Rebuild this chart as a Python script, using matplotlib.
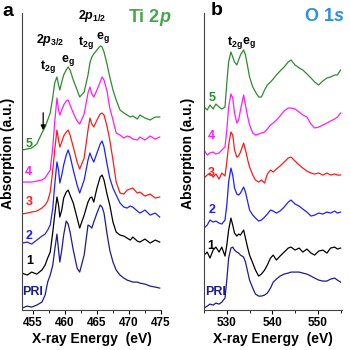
import matplotlib.pyplot as plt
from matplotlib.ticker import MultipleLocator

plt.rcParams['font.family'] = 'Liberation Sans'
plt.rcParams['font.weight'] = 'bold'
plt.rcParams['mathtext.fontset'] = 'custom'
plt.rcParams['mathtext.rm'] = 'Liberation Sans:bold'
plt.rcParams['mathtext.it'] = 'Liberation Sans:bold:italic'
plt.rcParams['mathtext.bf'] = 'Liberation Sans:bold'

# Ti 2p edge (eV) and stacked absorption traces (a.u., offsets included)
ti_energy = [453.3, 454.1, 454.8, 455.6, 456.4, 456.9, 457.3, 457.7, 458.1, 458.4, 458.75, 459.0,
             459.2, 459.5, 459.8, 460.2, 460.5, 460.8, 461.3, 461.9, 462.3, 463.0, 463.6, 463.9,
             464.2, 464.5, 465.0, 465.5, 465.8, 466.1, 466.6, 467.0, 467.5, 468.0, 468.6, 469.2,
             469.7, 470.2, 470.6, 471.3, 471.7, 472.5, 473.3, 474.1, 474.8]
ti_pri = [2, 4, 3, 5, 8, 15, 28, 35, 45, 60, 76, 60, 48, 60, 75, 89, 86, 78, 60, 42, 38, 55, 85, 84,
          82, 88, 97, 105, 103, 97, 75, 60, 48, 40, 35, 32, 30, 29, 28, 28, 27, 26, 24, 23, 22]
ti_1 = [37, 35, 38, 36, 40, 45, 52, 58, 78, 95, 113, 105, 93, 100, 112, 118, 120, 115, 107, 92, 82,
        95, 108, 112, 113, 108, 122, 133, 135, 130, 115, 105, 88, 78, 75, 74, 72, 70, 73, 69, 68,
        71, 67, 70, 68]
ti_2 = [67, 68, 66, 70, 74, 76, 80, 85, 102, 125, 148, 140, 127, 135, 145, 155, 160, 154, 140, 125,
        117, 130, 150, 157, 152, 148, 157, 166, 169, 163, 145, 132, 122, 115, 107, 103, 102, 104,
        103, 99, 97, 100, 95, 97, 93]
ti_3 = [96, 97, 98, 99, 102, 105, 109, 118, 140, 160, 180, 170, 163, 168, 174, 178, 180, 175, 163,
        148, 141, 152, 180, 192, 186, 183, 190, 196, 197, 195, 183, 170, 150, 128, 117, 116, 120,
        121, 122, 117, 118, 114, 116, 112, 113]
ti_4 = [128, 128, 128, 129, 130, 132, 136, 140, 163, 188, 212, 200, 195, 200, 205, 209, 210, 205,
        197, 189, 186, 196, 217, 223, 216, 213, 220, 228, 233, 230, 218, 202, 190, 177, 175, 172,
        174, 173, 171, 170, 173, 170, 174, 171, 173]
ti_5 = [160, 161, 162, 166, 177, 183, 190, 197, 213, 227, 233, 225, 220, 228, 235, 240, 243, 240,
        230, 220, 213, 218, 235, 247, 253, 256, 260, 264, 263, 258, 245, 233, 220, 210, 200, 197,
        195, 193, 194, 191, 195, 192, 190, 193, 193]

# O 1s edge
o_energy = [525.0, 525.7, 526.3, 527.0, 527.6, 528.3, 528.9, 529.6, 530.0, 530.4, 530.9, 531.3,
            531.7, 532.2, 532.6, 533.0, 533.7, 534.1, 534.6, 535.0, 535.7, 536.3, 537.0, 537.6,
            538.3, 538.9, 539.6, 540.2, 540.9, 541.7, 542.6, 543.5, 544.1, 545.0, 545.9, 546.7,
            547.6, 548.5, 549.3, 550.2, 551.1, 552.0, 552.8, 553.7, 554.3, 555.0]
o_pri = [2, 4, 6, 5, 7, 6, 8, 12, 30, 52, 62, 63, 60, 58, 57, 55, 53, 48, 38, 30, 22, 16, 14, 14,
         15, 17, 22, 28, 31, 34, 36, 37, 38, 38, 38, 37, 36, 34, 32, 30, 29, 29, 31, 32, 30, 28]
o_1 = [55, 58, 52, 60, 63, 58, 63, 54, 65, 80, 92, 85, 77, 74, 76, 75, 80, 72, 62, 55, 47, 40, 34,
       36, 40, 45, 52, 55, 50, 54, 58, 62, 63, 60, 62, 58, 61, 57, 55, 59, 60, 57, 62, 63, 61, 62]
o_2 = [82, 85, 90, 88, 89, 87, 86, 90, 105, 128, 142, 135, 122, 116, 115, 117, 123, 118, 108, 100,
       95, 92, 89, 90, 93, 96, 100, 99, 97, 99, 103, 108, 110, 106, 104, 101, 98, 94, 95, 97, 96,
       98, 97, 99, 97, 98]
o_3 = [132, 135, 137, 133, 136, 131, 137, 134, 148, 165, 178, 175, 160, 153, 154, 158, 167, 160,
       150, 143, 135, 130, 128, 130, 127, 136, 140, 138, 141, 144, 148, 152, 153, 149, 145, 142,
       139, 137, 136, 137, 135, 137, 135, 136, 135, 135]
o_4 = [160, 155, 157, 158, 156, 157, 160, 163, 180, 203, 216, 212, 197, 187, 190, 200, 215, 205,
       193, 185, 177, 175, 176, 177, 178, 181, 185, 187, 190, 194, 199, 202, 202, 201, 198, 195,
       193, 186, 182, 183, 185, 187, 189, 191, 193, 197]
o_5 = [203, 200, 205, 201, 206, 203, 201, 203, 227, 248, 258, 253, 248, 245, 250, 255, 260, 255,
       243, 233, 223, 218, 213, 213, 220, 225, 228, 231, 235, 239, 243, 248, 250, 245, 242, 240,
       236, 232, 228, 225, 229, 232, 233, 235, 235, 240]

labels = ['PRI', '1', '2', '3', '4', '5']
colors = ['#1c1c8c', 'black', '#1f1fff', '#ff1a1a', '#ff1aff', '#2f8a2f']

fig = plt.figure(figsize=(3.5, 3.5), dpi=100)
ax_a = fig.add_axes([0.063, 0.114, 0.397, 0.849])
ax_b = fig.add_axes([0.583, 0.114, 0.394, 0.849])

ti_curves = [ti_pri, ti_1, ti_2, ti_3, ti_4, ti_5]
o_curves = [o_pri, o_1, o_2, o_3, o_4, o_5]

for y, c in zip(ti_curves, colors):
    ax_a.plot(ti_energy, y, color=c, lw=0.9)
for y, c in zip(o_curves, colors):
    ax_b.plot(o_energy, y, color=c, lw=0.9)

# curve labels
ti_lab_x = [455.0, 454.5, 454.4, 454.4, 454.2, 454.4]
ti_lab_y = [18, 49, 74, 108, 138, 166]
o_lab_x = [527.6, 526.5, 526.7, 526.5, 526.7, 526.7]
o_lab_y = [18, 64, 100, 137, 174, 212]
for lab, c, x, y in zip(labels, colors, ti_lab_x, ti_lab_y):
    ax_a.text(x, y, lab, color=c, fontsize=9, ha='center', va='center')
for lab, c, x, y in zip(labels, colors, o_lab_x, o_lab_y):
    ax_b.text(x, y, lab, color=c, fontsize=9, ha='center', va='center')

for ax in [ax_a, ax_b]:
    ax.set_ylim(0, 297)
    ax.spines['top'].set_visible(False)
    ax.spines['right'].set_visible(False)
    ax.spines['left'].set_color('#444444')
    ax.spines['bottom'].set_color('#444444')
    ax.set_yticks([])
    ax.tick_params(axis='x', direction='out', length=3, width=0.8, labelsize=8.5, pad=2)
    ax.tick_params(axis='x', which='minor', direction='out', length=2, width=0.6)
    ax.set_xlabel('X-ray Energy  (eV)', fontsize=10, fontweight='bold', labelpad=2)
    ax.patch.set_alpha(0)

ax_a.set_xlim(453.3, 475)
ax_a.set_xticks([455, 460, 465, 470, 475])
ax_a.xaxis.set_minor_locator(MultipleLocator(2.5))
ax_b.set_xlim(525, 555.3)
ax_b.set_xticks([530, 540, 550])
ax_b.xaxis.set_minor_locator(MultipleLocator(5))

# peak annotations
ax_a.text(464.2, 294, r'2$\it{p}_{\rm 1/2}$', fontsize=9, ha='center', va='center')
ax_a.text(457.7, 270, r'2$\it{p}_{\rm 3/2}$', fontsize=9, ha='center', va='center')
ax_a.text(457.3, 243, r't$_{\rm 2g}$', fontsize=9, ha='center', va='center')
ax_a.text(460.5, 249, r'e$_{\rm g}$', fontsize=9, ha='center', va='center')
ax_a.text(463.3, 267, r't$_{\rm 2g}$', fontsize=9, ha='center', va='center')
ax_a.text(465.9, 272, r'e$_{\rm g}$', fontsize=9, ha='center', va='center')
ax_a.annotate('', xy=(456.6, 177), xytext=(456.6, 200),
              arrowprops=dict(arrowstyle='-|>', color='black', lw=0.9, mutation_scale=7))
ax_b.text(531.7, 267, r't$_{\rm 2g}$', fontsize=9, ha='center', va='center')
ax_b.text(534.8, 267, r'e$_{\rm g}$', fontsize=9, ha='center', va='center')

fig.text(0.023, 0.966, 'a', fontsize=14, ha='center', va='center')
fig.text(0.619, 0.969, 'b', fontsize=14, ha='center', va='center')
fig.text(0.429, 0.949, r'Ti 2$\it{p}$', fontsize=13, color='#45a845', ha='center', va='center')
fig.text(0.926, 0.954, r'O 1$\it{s}$', fontsize=13, color='#2d8fe6', ha='center', va='center')
fig.text(0.023, 0.563, 'Absorption (a.u.)', fontsize=10, rotation=90, ha='center', va='center')
fig.text(0.537, 0.563, 'Absorption (a.u.)', fontsize=10, rotation=90, ha='center', va='center')

plt.savefig('out.png', dpi=100)
